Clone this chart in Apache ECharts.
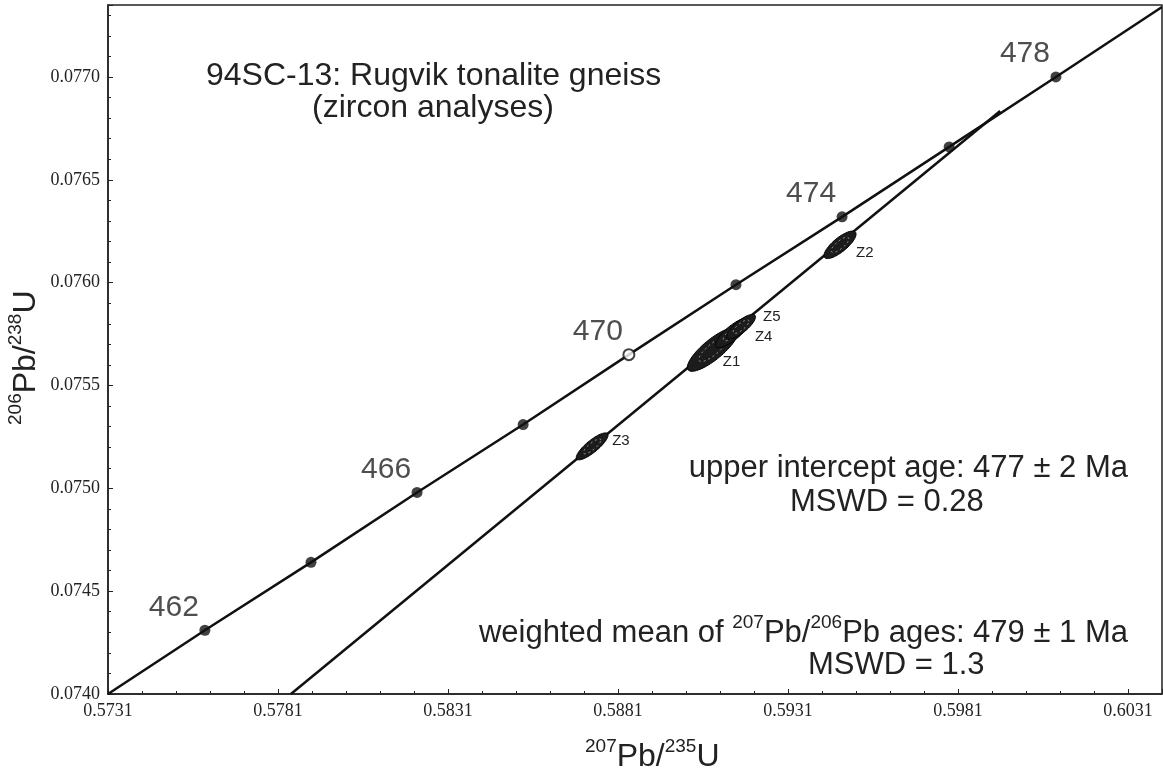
<!DOCTYPE html>
<html><head><meta charset="utf-8">
<script src="https://cdn.jsdelivr.net/npm/echarts@6/dist/echarts.min.js"></script>
<style>html,body{margin:0;padding:0;background:#fff}#c{width:1163px;height:774px}</style>
</head><body><div id="c"></div>
<script>
// ---- data ----
const concordiaAges = [462, 464, 466, 468, 470, 472, 474, 476, 478];
const concordiaX = [0.57595, 0.57907, 0.58219, 0.58531, 0.58842, 0.59157, 0.59469, 0.59784, 0.60098];
const concordiaY = [0.07431, 0.07464, 0.07498, 0.07531, 0.07565, 0.07599, 0.07632, 0.07666, 0.07700];
const concordiaEnds = [[0.5731, 0.0740], [0.6041, 0.07734]];
const labeledAges = [462, 466, 470, 474, 478];
const openMarkerAges = [470];
const discordiaX = [0.57848, 0.59934];
const discordiaY = [0.07400, 0.076835];
const zirconNames = ['Z1', 'Z4', 'Z5', 'Z2', 'Z3'];
const zirconX = [0.59089, 0.59148, 0.59172, 0.59463, 0.58734];
const zirconY = [0.075675, 0.075757, 0.075786, 0.076184, 0.075204];
const zirconSx = [0.00075, 0.000516, 0.000424, 0.000472, 0.000468];
const zirconSy = [0.000106, 0.0000728, 0.00006, 0.000067, 0.0000656];
const zirconRho = [0.816, 0.811, 0.795, 0.778, 0.832];
const xTickStart = 0.5731, xMax = 0.6041, xStep = 0.005;
const yMin = 0.0740, yMax = 0.07735, yStep = 0.0005;

// ---- build ----
const concPts = [concordiaEnds[0]].concat(concordiaX.map((x, i) => [x, concordiaY[i]])).concat([concordiaEnds[1]]);
const markerPts = concordiaAges.map((a, i) => ({
  value: [concordiaX[i], concordiaY[i], a],
  itemStyle: openMarkerAges.includes(a) ? {color: '#fff', borderColor: '#111', borderWidth: 2} : {color: '#111'},
  label: {show: labeledAges.includes(a)}
}));
const discPts = discordiaX.map((x, i) => [x, discordiaY[i]]);
const ellData = zirconNames.map((n, i) => [zirconX[i], zirconY[i], zirconSx[i], zirconSy[i], zirconRho[i], i]);
const zLabelOffset = {Z1: [10, 12], Z4: [22, 4], Z5: [22, -10], Z2: [16, 8], Z3: [20, -6]};

function ellipsePoints(api, cx, cy, sx, sy, rho, k) {
  const pts = [];
  const s = Math.sqrt(1 - rho * rho);
  for (let j = 0; j <= 72; j++) {
    const t = j / 72 * Math.PI * 2;
    const x = cx + k * sx * Math.cos(t);
    const y = cy + k * sy * (rho * Math.cos(t) + s * Math.sin(t));
    pts.push(api.coord([x, y]));
  }
  return pts;
}

const chart = echarts.init(document.getElementById('c'), null, {renderer: 'canvas'});
const sans = 'Liberation Sans, Arial, Helvetica, sans-serif';
const serif = 'Liberation Serif, Times New Roman, serif';
const richTitle = {
  n: {fontFamily: sans, fontSize: 32, fill: '#222', lineHeight: 36, verticalAlign: 'bottom'},
  s: {fontFamily: sans, fontSize: 19, fill: '#222', lineHeight: 36, verticalAlign: 'top'}
};
chart.setOption({
  animation: false,
  grid: {left: 108, right: 1, top: 5, bottom: 80, show: true, borderColor: '#222', borderWidth: 1.5},
  xAxis: {
    type: 'value', min: xTickStart, max: xMax, interval: xStep,
    axisLine: {show: true, lineStyle: {color: '#222', width: 1.5}},
    axisTick: {inside: true, length: 5, lineStyle: {color: '#222'}},
    minorTick: {show: true, splitNumber: 5, length: 3, lineStyle: {color: '#222'}},
    splitLine: {show: false},
    axisLabel: {fontFamily: serif, fontSize: 18, color: '#222', margin: 8, showMaxLabel: false,
      formatter: v => v.toFixed(4)}
  },
  yAxis: {
    type: 'value', min: yMin, max: yMax, interval: yStep,
    axisLine: {show: true, lineStyle: {color: '#222', width: 1.5}},
    axisTick: {inside: true, length: 5, lineStyle: {color: '#222'}},
    minorTick: {show: true, splitNumber: 5, length: 3, lineStyle: {color: '#222'}},
    splitLine: {show: false},
    axisLabel: {fontFamily: serif, fontSize: 18, color: '#222', margin: 8, showMaxLabel: false,
      formatter: v => v.toFixed(4)}
  },
  series: [
    {type: 'line', data: concPts, showSymbol: false, lineStyle: {color: '#111', width: 2.5}, z: 2, clip: true},
    {type: 'line', data: discPts, showSymbol: false, lineStyle: {color: '#111', width: 2.5}, z: 2, clip: true},
    {
      type: 'custom', z: 3, data: ellData,
      renderItem: function (params, api) {
        const cx = api.value(0), cy = api.value(1), sx = api.value(2), sy = api.value(3), rho = api.value(4);
        const name = zirconNames[api.value(5)];
        const c = api.coord([cx, cy]);
        const off = zLabelOffset[name];
        return {
          type: 'group', children: [
            {type: 'polygon', shape: {points: ellipsePoints(api, cx, cy, sx, sy, rho, 1)},
              style: {fill: '#1c1c1c', stroke: '#000', lineWidth: 1}},
            {type: 'polyline', shape: {points: ellipsePoints(api, cx, cy, sx, sy, rho, 0.55)},
              style: {fill: null, stroke: 'rgba(255,255,255,0.55)', lineWidth: 1, lineDash: [2, 3]}},
            {type: 'text', x: c[0] + off[0], y: c[1] + off[1],
              style: {text: name, fontFamily: sans, fontSize: 15, fill: '#222', textVerticalAlign: 'middle'}}
          ]
        };
      }
    },
    {
      type: 'scatter', data: markerPts, symbol: 'circle', symbolSize: 11, z: 4,
      label: {formatter: p => p.value[2], position: 'inside', offset: [-31, -23],
        fontFamily: sans, fontSize: 30, color: '#222'}
    }
  ],
  graphic: [
    {type: 'text', left: 206, top: 60, style: {text: '94SC-13: Rugvik tonalite gneiss', font: '32px ' + sans, fill: '#222'}},
    {type: 'text', left: 312, top: 92, style: {text: '(zircon analyses)', font: '32px ' + sans, fill: '#222'}},
    {type: 'text', right: 35, top: 453, style: {text: 'upper intercept age: 477 \u00b1 2 Ma', font: '31px ' + sans, fill: '#222'}},
    {type: 'text', left: 790, top: 487, style: {text: 'MSWD = 0.28', font: '31px ' + sans, fill: '#222'}},
    {type: 'text', right: 35, top: 613, style: {
      text: '{n|weighted mean of }{s|207}{n|Pb/}{s|206}{n|Pb ages: 479 \u00b1 1 Ma}',
      rich: {n: {fontFamily: sans, fontSize: 31, fill: '#222', lineHeight: 36, verticalAlign: 'bottom'},
             s: {fontFamily: sans, fontSize: 19, fill: '#222', lineHeight: 36, verticalAlign: 'top'}}}},
    {type: 'text', left: 808, top: 650, style: {text: 'MSWD = 1.3', font: '31px ' + sans, fill: '#222'}},
    {type: 'text', left: 585, top: 737, style: {text: '{s|207}{n|Pb/}{s|235}{n|U}', rich: richTitle}},
    {type: 'text', x: 6, y: 425, rotation: Math.PI / 2, style: {text: '{s|206}{n|Pb/}{s|238}{n|U}', rich: richTitle}}
  ]
});
</script></body></html>
